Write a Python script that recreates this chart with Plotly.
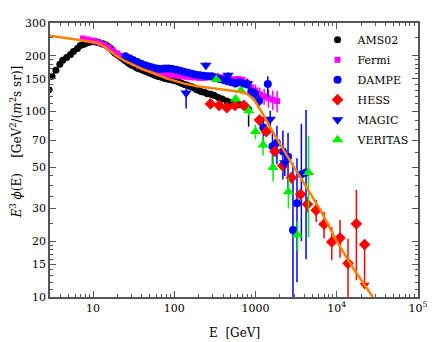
import plotly.graph_objects as go

# AMS02
ams_x = [2.87, 3.12, 3.49, 3.90, 4.23, 4.73, 5.29, 5.74, 6.42, 6.97, 7.57, 8.0, 8.46, 8.9, 9.46,
         10.0, 10.6, 11.2, 11.8, 12.5, 13.2, 13.9, 14.7, 15.6, 16.5, 17.4, 18.4, 19.5, 20.6, 21.8,
         23.0, 24.3, 25.7, 27.2, 28.7, 30.4, 32.1, 34.0, 35.9, 38.5, 41.2, 44.1, 47.3, 50.7, 54.3,
         58.2, 62.4, 66.9, 71.6, 76.8, 82.2, 88.1, 94.4, 101, 108, 116, 125, 134, 143, 154,
         165, 177, 189, 203, 217, 236, 256, 283, 312, 350, 391, 445, 502, 570, 643, 730, 824]
ams_y = [131, 155, 167, 180, 189, 196, 203, 211, 219, 227, 230, 233, 235, 237, 238,
         238, 238, 237, 235, 234, 232, 230, 227, 223, 219, 213, 208, 204, 201, 197,
         194, 190, 187, 183, 180, 178, 176, 173, 171, 169, 167, 165, 163, 161, 159,
         157, 155, 154, 153, 151, 150, 149, 148, 147, 146, 144, 142, 140, 139, 137,
         136, 134, 131, 130, 128, 127, 125, 124, 122, 119, 117, 114, 112, 110, 109, 108, 103]
ams_err_up = [0]*71 + [3, 3, 4, 4, 5, 6]
ams_err_dn = [0]*71 + [3, 3, 4, 4, 5, 20]

# Fermi
fermi_x = [7.5, 8.5, 9.6, 10.8, 12.2, 13.8, 15.6, 17.6, 19.9, 22.5, 25.4, 28.7, 32.5, 36.7, 41.5,
           46.9, 53, 60, 68, 76, 86, 98, 110, 125, 141, 160, 180, 204, 230, 260, 295, 333, 376,
           425, 481, 543, 614, 694, 784, 886, 1002, 1132, 1280, 1447, 1635, 1848]
fermi_y = [248, 245, 242, 239, 234, 229, 222, 214, 206, 199, 193, 187, 182, 177, 173,
           170, 167, 164, 162, 160, 158, 157, 156, 155, 154, 153, 153, 152, 152, 153, 155, 155, 153,
           152, 150, 149, 150, 148, 143, 135, 130, 124, 121, 118, 116, 114]
fermi_err = [2]*30 + [3, 3, 4, 4, 5, 5, 6, 7, 8, 9, 10, 11, 12, 13, 14, 15]

# DAMPE
dampe_x = [25, 28, 31, 35, 39, 43.5, 48.6, 54, 61, 68, 76, 85, 95, 106, 119, 132, 148, 166,
           185, 207, 232, 259, 290, 324, 363, 406, 454, 507, 567, 634, 709, 793, 887, 991,
           1108, 1250, 1420, 1620, 1840, 2180, 2520, 2900, 3250, 3680, 4200]
dampe_y = [199, 194, 190, 185, 181, 178, 175, 173, 171, 170, 171, 171, 170, 168, 166, 164, 162, 160,
           158, 157, 156, 155, 155, 152, 150, 148, 146, 144, 142, 144, 142, 140, 128, 125,
           114, 82, 141, 65, 68, 61, 57, 23, 32, 46, 47]
dampe_err_up = [2]*25 + [3, 3, 3, 4, 4, 5, 6, 7, 8, 9, 12, 14, 14, 16, 18, 20, 30, 24, 40, 55]
dampe_err_dn = [2]*25 + [3, 3, 3, 4, 4, 5, 6, 7, 8, 9, 12, 22, 14, 16, 18, 20, 14, 20, 26, 31]

# HESS
hess_x = [279, 357, 445, 560, 720, 1120, 1360, 1740, 2170, 2780, 3600, 4370, 5600, 7000,
          8700, 11000, 13800, 17500, 22100]
hess_y = [110, 108, 105, 108, 108, 90, 78, 61, 51, 44, 35.8, 31.6, 29.4, 24.7,
          19.8, 20.8, 15.2, 24.8, 19.2]
hess_err_up = [3, 3, 3, 3, 4, 4, 4, 3, 3, 3, 2.5, 3, 4, 4, 4, 5.2, 5.4, 13, 0]
hess_err_dn = [3, 3, 3, 3, 4, 4, 4, 3, 3, 3, 2.5, 3, 4, 4, 4, 4.5, 6, 12.5, 7.9]
hess_ul_x = [22100]
hess_ul_y = [11.6]

# MAGIC
magic_x = [140, 245, 460, 800, 1520, 2300]
magic_y = [126, 178, 157, 142, 91, 53]
magic_err_up = [12, 6, 6, 8, 10, 8]
magic_err_dn = [22, 6, 6, 8, 10, 8]

# VERITAS
veritas_x = [330, 570, 660, 830, 1000, 1240, 1650, 2550, 3300, 4500]
veritas_y = [149, 117, 130, 101, 78, 66, 50, 37, 21.6, 47]
veritas_err_up = [5, 5, 5, 6, 7, 8, 8, 7, 4, 27]
veritas_err_dn = [5, 5, 5, 6, 7, 8, 8, 7, 4, 26]

# model curve
model_x = [2.95, 5, 7.4, 9.5, 11, 12.5, 14, 16, 18, 20, 25, 32, 40, 50, 63, 80, 100, 130, 190, 300,
           470, 650, 800, 900, 1000, 1100, 1200, 1300, 1450, 1600, 2500, 4000, 6300, 10000, 16000, 27900]
model_y = [257, 249, 242, 238, 235, 230, 223, 214, 205, 198, 187, 177, 170, 164, 157, 151, 147, 142, 137, 134,
           131, 128, 124, 119, 113, 106, 99, 93, 85, 79, 57, 41, 29.5, 20, 14.3, 10]

FONT = "DejaVu Serif, serif"

fig = go.Figure()


def add_points(name, x, y, up, dn, color, symbol, size):
    fig.add_trace(go.Scatter(
        x=x, y=y, mode="markers", name=name, legendgroup=name,
        marker=dict(color=color, symbol=symbol, size=size, line=dict(width=0)),
        error_y=dict(type="data", array=up, arrayminus=dn, color=color,
                     thickness=1.5, width=0, symmetric=False),
    ))


add_points("AMS02", ams_x, ams_y, ams_err_up, ams_err_dn, "black", "circle", 7)
add_points("Fermi", fermi_x, fermi_y, fermi_err, fermi_err, "#ff00ff", "square", 6)
add_points("DAMPE", dampe_x, dampe_y, dampe_err_up, dampe_err_dn, "#0000ff", "circle", 8)
add_points("HESS", hess_x, hess_y, hess_err_up, hess_err_dn, "#ff0000", "diamond", 9)
fig.add_trace(go.Scatter(x=hess_ul_x, y=hess_ul_y, mode="markers", showlegend=False,
                         legendgroup="HESS",
                         marker=dict(color="#ff0000", symbol="triangle-down", size=9)))
add_points("MAGIC", magic_x, magic_y, magic_err_up, magic_err_dn, "#0000ff", "triangle-down", 10)
add_points("VERITAS", veritas_x, veritas_y, veritas_err_up, veritas_err_dn, "#00ee00", "triangle-up", 10)

fig.add_trace(go.Scatter(x=model_x, y=model_y, mode="lines", showlegend=False,
                         line=dict(color="#ff8000", width=2.5)))

x_minor = [m * 10 ** d for d in range(0, 5) for m in range(2, 10)]
y_minor = list(range(11, 20)) + list(range(25, 50, 5)) + list(range(60, 100, 10)) + \
          list(range(110, 200, 10)) + [250]

axis_common = dict(type="log", showgrid=False, zeroline=False, showline=True,
                   linecolor="#555555", linewidth=1.5, mirror="ticks", ticks="inside",
                   ticklen=6, tickcolor="#555555", tickfont=dict(family=FONT, size=11, color="black"))

fig.update_xaxes(**axis_common, range=[0.47, 5.002],
                 tickvals=[10, 100, 1000, 1e4, 1e5],
                 ticktext=["10", "100", "1000", "10<sup>4</sup>", "10<sup>5</sup>"],
                 minor=dict(tickvals=x_minor, ticks="inside", ticklen=3, tickcolor="#555555"))
fig.update_yaxes(**axis_common, range=[1, 2.478],
                 tickvals=[10, 15, 20, 30, 50, 70, 100, 150, 200, 300],
                 ticktext=["10", "15", "20", "30", "50", "70", "100", "150", "200", "300"],
                 minor=dict(tickvals=y_minor, ticks="inside", ticklen=3, tickcolor="#555555"))

fig.add_annotation(text="<i>E</i><sup>3</sup> <i>ϕ</i>(E)    [GeV<sup>2</sup>/(<i>m</i><sup>2</sup>s sr)]",
                   xref="paper", yref="paper", x=-0.092, y=0.565, xanchor="center", yanchor="middle",
                   textangle=-90, showarrow=False, font=dict(family=FONT, size=12, color="black"))
fig.add_annotation(text="E  [GeV]", xref="paper", yref="paper", x=0.5, y=-0.13,
                   xanchor="center", yanchor="middle",
                   showarrow=False, font=dict(family=FONT, size=12, color="black"))

# page body has an 8px margin, so the figure is sized to fit the 436x342 window
fig.update_layout(
    width=428, height=334,
    margin=dict(l=42, r=9, t=11, b=45),
    paper_bgcolor="white", plot_bgcolor="white",
    font=dict(family=FONT, size=12, color="black"),
    legend=dict(x=0.727, y=0.992, xanchor="left", yanchor="top", bgcolor="rgba(0,0,0,0)",
                font=dict(family=FONT, size=11), tracegroupgap=1, itemwidth=30),
)

fig.write_html("out.html")
